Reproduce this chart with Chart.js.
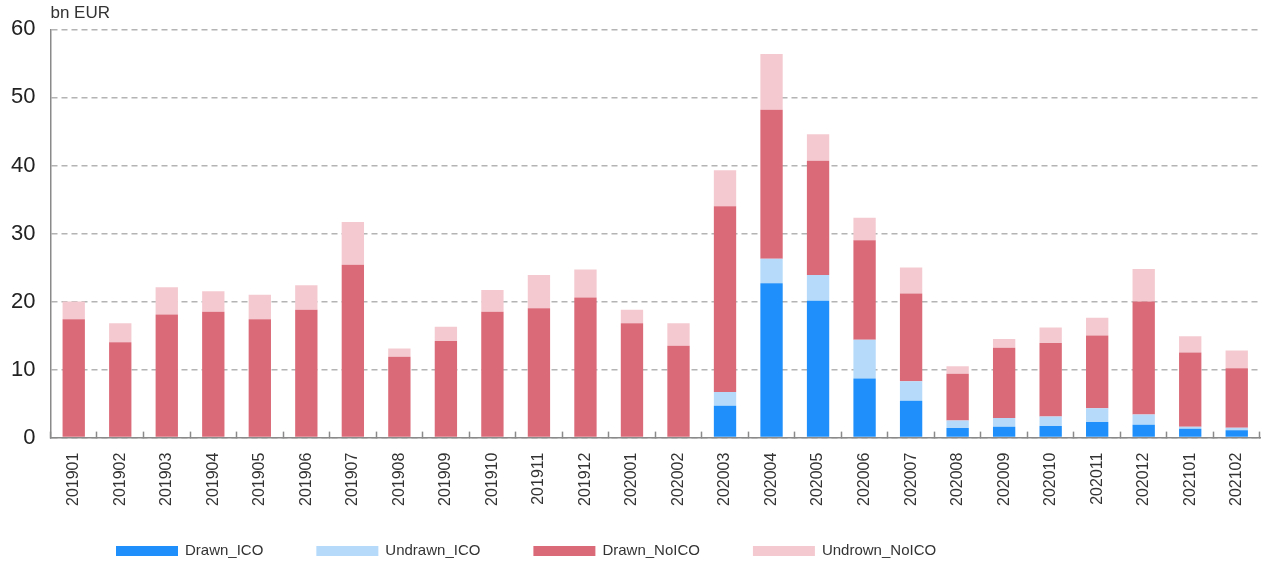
<!DOCTYPE html>
<html>
<head>
<meta charset="utf-8">
<script src="https://cdn.jsdelivr.net/npm/chart.js@4.4.1/dist/chart.umd.min.js"></script>
<style>
  html, body { margin: 0; padding: 0; background: #fff; }
  #wrap { width: 1263px; height: 563px; }
</style>
</head>
<body>
<div id="wrap"><canvas id="chart"></canvas></div>
<script>
const months = [
  "201901", "201902", "201903", "201904", "201905", "201906", "201907", "201908", "201909",
  "201910", "201911", "201912", "202001", "202002", "202003", "202004", "202005", "202006",
  "202007", "202008", "202009", "202010", "202011", "202012", "202101", "202102"
];

// bn EUR
const drawnICO = [
  0, 0, 0, 0, 0, 0, 0, 0, 0, 0, 0, 0, 0, 0,
  4.7, 22.7, 20.1, 8.7, 5.4, 1.4, 1.6, 1.7, 2.3, 1.9, 1.3, 1.1
];
const undrawnICO = [
  0, 0, 0, 0, 0, 0, 0, 0, 0, 0, 0, 0, 0, 0,
  2.0, 3.6, 3.8, 5.7, 2.9, 1.1, 1.3, 1.4, 2.0, 1.5, 0.3, 0.35
];
const drawnNoICO = [
  17.4, 14.0, 18.1, 18.5, 17.4, 18.8, 25.4, 11.9, 14.2, 18.5, 19.0, 20.6, 16.8, 13.5,
  27.3, 21.9, 16.8, 14.6, 12.9, 6.9, 10.3, 10.8, 10.7, 16.6, 10.9, 8.75
];
const undrawnNoICO = [
  2.6, 2.8, 4.0, 3.0, 3.6, 3.6, 6.3, 1.2, 2.1, 3.2, 4.9, 4.1, 2.0, 3.3,
  5.3, 8.2, 3.9, 3.3, 3.8, 1.1, 1.3, 2.3, 2.6, 4.8, 2.4, 2.6
];

const yTicks = [0, 10, 20, 30, 40, 50, 60];

const fontFamily = "'Liberation Sans', Arial, sans-serif";
const legendFont = "15px 'Liberation Sans', Arial, sans-serif";

const dataset = (label, data, color) => ({
  label: label,
  data: data,
  backgroundColor: color,
  borderWidth: 0,
  barPercentage: 0.48,
  categoryPercentage: 1.0
});

// legend drawn under the axis labels, in one row
const bottomLegend = {
  id: "bottomLegend",
  afterDraw(chart, args, opts) {
    const ctx = chart.ctx;
    ctx.save();
    ctx.font = legendFont;
    ctx.textBaseline = "middle";
    let x = opts.left;
    const y = chart.height - opts.fromBottom;
    chart.data.datasets.forEach(ds => {
      ctx.fillStyle = ds.backgroundColor;
      ctx.fillRect(x, y - opts.boxHeight / 2, opts.boxWidth, opts.boxHeight);
      ctx.fillStyle = "#333";
      ctx.fillText(ds.label, x + opts.boxWidth + 7, y);
      x += opts.boxWidth + 7 + ctx.measureText(ds.label).width + opts.gap;
    });
    ctx.restore();
  }
};

new Chart(document.getElementById("chart"), {
  type: "bar",
  data: {
    labels: months,
    datasets: [
      dataset("Drawn_ICO", drawnICO, "#1e8ffb"),
      dataset("Undrawn_ICO", undrawnICO, "#b5dafa"),
      dataset("Drawn_NoICO", drawnNoICO, "#db6a78"),
      dataset("Undrown_NoICO", undrawnNoICO, "#f4cad0")
    ]
  },
  plugins: [bottomLegend],
  options: {
    responsive: true,
    maintainAspectRatio: false,
    animation: false,
    layout: { padding: { left: -4, right: 3, top: 0, bottom: 36 } },
    scales: {
      x: {
        stacked: true,
        offset: true,
        // rotated labels sit inside their categories, no side padding needed
        afterFit: (scale) => { scale.paddingLeft = 0; scale.paddingRight = 0; },
        grid: {
          drawOnChartArea: false,
          drawTicks: true,
          tickLength: -6,
          tickColor: "#8a8a8a",
          tickWidth: 1.5,
          offset: true
        },
        border: { display: true, color: "#8a8a8a", width: 1.5 },
        ticks: {
          minRotation: 90,
          maxRotation: 90,
          autoSkip: false,
          padding: 21,
          color: "#333",
          font: { family: fontFamily, size: 16 }
        }
      },
      y: {
        stacked: true,
        min: 0,
        max: 60,
        afterBuildTicks: (scale) => { scale.ticks = yTicks.map(v => ({ value: v })); },
        grid: {
          color: "#b4b4b4",
          lineWidth: 1.5,
          drawTicks: false
        },
        border: { display: true, color: "#8a8a8a", width: 1.5, dash: [6, 4] },
        ticks: {
          padding: 15,
          color: "#222",
          font: { family: fontFamily, size: 22 }
        }
      }
    },
    plugins: {
      title: {
        display: true,
        text: "bn EUR",
        align: "start",
        fullSize: false,
        color: "#333",
        font: { family: fontFamily, size: 17, weight: "normal" },
        padding: { top: 3, bottom: 6 }
      },
      legend: { display: false },
      bottomLegend: { left: 116, fromBottom: 12, boxWidth: 62, boxHeight: 10, gap: 53 },
      tooltip: { enabled: false }
    }
  }
});
</script>
</body>
</html>
